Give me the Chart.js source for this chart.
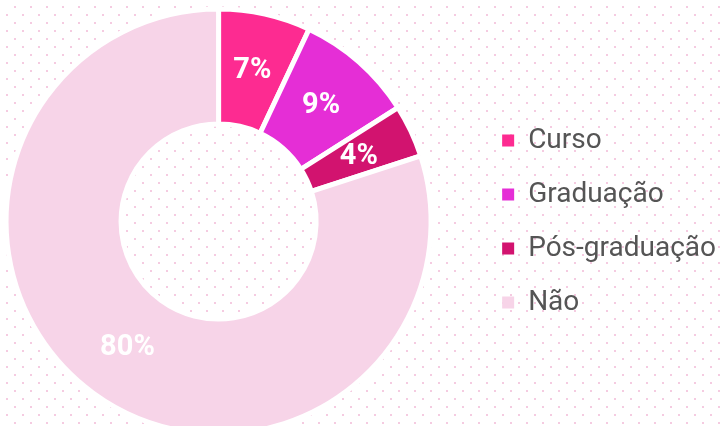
<!DOCTYPE html>
<html>
<head>
<meta charset="utf-8">
<script src="https://cdn.jsdelivr.net/npm/chart.js@4"></script>
<style>
  html, body { margin: 0; padding: 0; overflow: hidden; background: #fff; }
  body { width: 720px; height: 426px; position: relative; }
  /* canvas passa um pouco das bordas, como no original */
  #wrap { position: absolute; left: -39px; top: 0; width: 769px; height: 443px; }
</style>
</head>
<body>
<div id="wrap"><canvas id="donut"></canvas></div>
<script>
const categorias = ['Curso', 'Graduação', 'Pós-graduação', 'Não'];
const valores = [7, 9, 4, 80];
const cores = ['#fd2b91', '#e52ed6', '#d2136f', '#f7d4e8'];

// Fundo com pontinhos rosa
const fundoPontilhado = {
    id: 'fundoPontilhado',
    beforeDraw(chart) {
        const ctx = chart.ctx;
        ctx.save();
        ctx.fillStyle = '#f5cbe1';
        for (let y = 6, linha = 0; y < chart.height; y += 8, linha++) {
            const inicio = linha % 2 === 0 ? 5 : 13;
            for (let x = inicio; x < chart.width; x += 16) {
                ctx.fillRect(x, y, 2, 2);
            }
        }
        ctx.restore();
    }
};

// Percentuais no meio de cada fatia
const rotulos = {
    id: 'rotulos',
    afterDatasetsDraw(chart) {
        const ctx = chart.ctx;
        const meta = chart.getDatasetMeta(0);
        ctx.save();
        ctx.font = 'bold 29px Roboto';
        ctx.fillStyle = '#ffffff';
        ctx.textAlign = 'center';
        ctx.textBaseline = 'middle';
        meta.data.forEach((arc, i) => {
            const p = arc.tooltipPosition();
            ctx.fillText(valores[i] + '%', p.x, p.y + 1);
        });
        ctx.restore();
    }
};

new Chart(document.getElementById('donut'), {
    type: 'doughnut',
    data: {
        labels: categorias,
        datasets: [{
            data: valores,
            backgroundColor: cores,
            borderColor: '#ffffff',
            borderWidth: 5,
            hoverOffset: 0
        }]
    },
    options: {
        responsive: true,
        maintainAspectRatio: false,
        animation: false,
        radius: 212.5,
        cutout: '45.9%',
        layout: { padding: { right: 4 } },
        plugins: {
            legend: {
                position: 'right',
                labels: {
                    boxWidth: 12,
                    boxHeight: 12,
                    padding: 26,
                    color: '#555555',
                    font: { family: 'Roboto', size: 28 },
                    generateLabels(chart) {
                        const base = Chart.overrides.doughnut.plugins.legend.labels.generateLabels(chart);
                        return base.map(item => ({ ...item, lineWidth: 0 }));
                    }
                }
            },
            tooltip: { enabled: false }
        }
    },
    plugins: [fundoPontilhado, rotulos]
});
</script>
</body>
</html>
